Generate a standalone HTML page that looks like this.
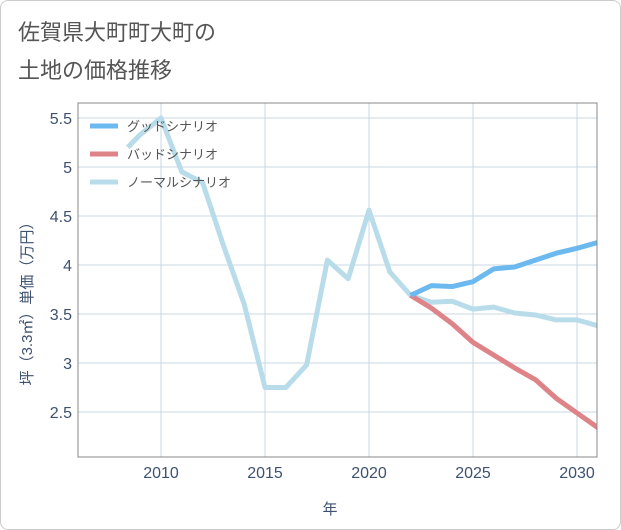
<!DOCTYPE html>
<html><head><meta charset="utf-8"><style>
body{margin:0;background:#fff;}
#wrap{width:619px;height:528px;border:1px solid #ccc;border-radius:8px;position:relative;overflow:hidden;font-family:"Liberation Sans","Noto Sans CJK JP",sans-serif;}
</style></head><body>
<div id="wrap">
<svg id="svg" width="621" height="530" style="position:absolute;left:-1px;top:-1px">
<text x="18" y="40" font-size="22" fill="#555" font-family="Liberation Sans, Noto Sans CJK JP, sans-serif">佐賀県大町町大町の</text>
<text x="18" y="78" font-size="22" fill="#555" font-family="Liberation Sans, Noto Sans CJK JP, sans-serif">土地の価格推移</text>
<g id="grid"></g>
<g id="lines"></g>
<rect x="78" y="103" width="519" height="354" fill="none" stroke="#888" stroke-width="1"/>
<g id="legend"></g>
<text x="330" y="514" font-size="15" fill="#3d5170" text-anchor="middle" font-family="Liberation Sans, Noto Sans CJK JP, sans-serif">年</text>
<text transform="translate(32,300) rotate(-90)" font-size="15" fill="#3d5170" text-anchor="middle" font-family="Liberation Sans, Noto Sans CJK JP, sans-serif">坪（3.3㎡）単価（万円）</text>
</svg>
</div>
<script>
const normalYears=[2008.4,2009,2010,2011,2012,2013,2014,2015,2016,2017,2018,2019,2020,2021,2022,2023,2024,2025,2026,2027,2028,2029,2030,2031];
const normalValues=[5.2,5.33,5.5,4.95,4.84,4.2,3.6,2.75,2.75,2.98,4.05,3.86,4.56,3.93,3.69,3.62,3.63,3.55,3.57,3.51,3.49,3.44,3.44,3.38];
const futureYears=[2022,2023,2024,2025,2026,2027,2028,2029,2030,2031];
const goodValues=[3.69,3.79,3.78,3.83,3.96,3.98,4.05,4.12,4.17,4.23];
const badValues=[3.69,3.56,3.40,3.21,3.08,2.95,2.83,2.64,2.49,2.34];
const xTicks=[2010,2015,2020,2025,2030];
const yTicks=[2.5,3,3.5,4,4.5,5,5.5];
const NS="http://www.w3.org/2000/svg";
const X0=78,X1=597,Y0=103,Y1=457;
const xs=v=>161+(v-2010)*20.8;
const ys=v=>118+(5.5-v)*98;
const grid=document.getElementById('grid'),lines=document.getElementById('lines'),leg=document.getElementById('legend'),svg=document.getElementById('svg');
function mk(t,a,p){const e=document.createElementNS(NS,t);for(const k in a)e.setAttribute(k,a[k]);p.appendChild(e);return e;}
xTicks.forEach(t=>{
 const l=mk('line',{x1:xs(t),x2:xs(t),y1:Y0,y2:Y1,stroke:'#c9d9e6','stroke-width':1},grid);
 
 
 const tx=mk('text',{x:xs(t),y:478,'font-size':16,fill:'#3d5170','text-anchor':'middle','font-family':'Liberation Sans, sans-serif'},svg);
 tx.textContent=t;
 
 
});
yTicks.forEach(t=>{
 const l=mk('line',{x1:X0,x2:X1,y1:ys(t),y2:ys(t),stroke:'#c9d9e6','stroke-width':1},grid);
 
 
 const tx=mk('text',{x:72,y:ys(t)+6,'font-size':16,fill:'#3d5170','text-anchor':'end','font-family':'Liberation Sans, sans-serif'},svg);
 tx.textContent=String(t);
 
 
});
const clip=mk('clipPath',{id:'pc'},svg);mk('rect',{x:X0,y:Y0,width:X1-X0,height:Y1-Y0},clip);
lines.setAttribute('clip-path','url(#pc)');
function series(xv,yv,color,name){
 const p=mk('polyline',{points:xv.map((x,i)=>xs(x)+','+ys(yv[i])).join(' '),fill:'none',stroke:color,'stroke-width':5,'stroke-linejoin':'round'},lines);
 
 
}
series(normalYears,normalValues,'#b9dcea','normal-scenario-line');
series(futureYears,badValues,'#de8489','bad-scenario-line');
series(futureYears,goodValues,'#6cb9ef','good-scenario-line');
[['グッドシナリオ','#6cb9ef',126],['バッドシナリオ','#de8489',154],['ノーマルシナリオ','#b9dcea',182]].forEach(([t,c,y])=>{
 const l=mk('line',{x1:90,x2:118,y1:y,y2:y,stroke:c,'stroke-width':5},leg);
 
 
 const tx=mk('text',{x:127,y:y+5,'font-size':13,fill:'#555','font-family':'Liberation Sans, Noto Sans CJK JP, sans-serif'},leg);
 tx.textContent=t;
 
 
});
</script>
</body></html>
